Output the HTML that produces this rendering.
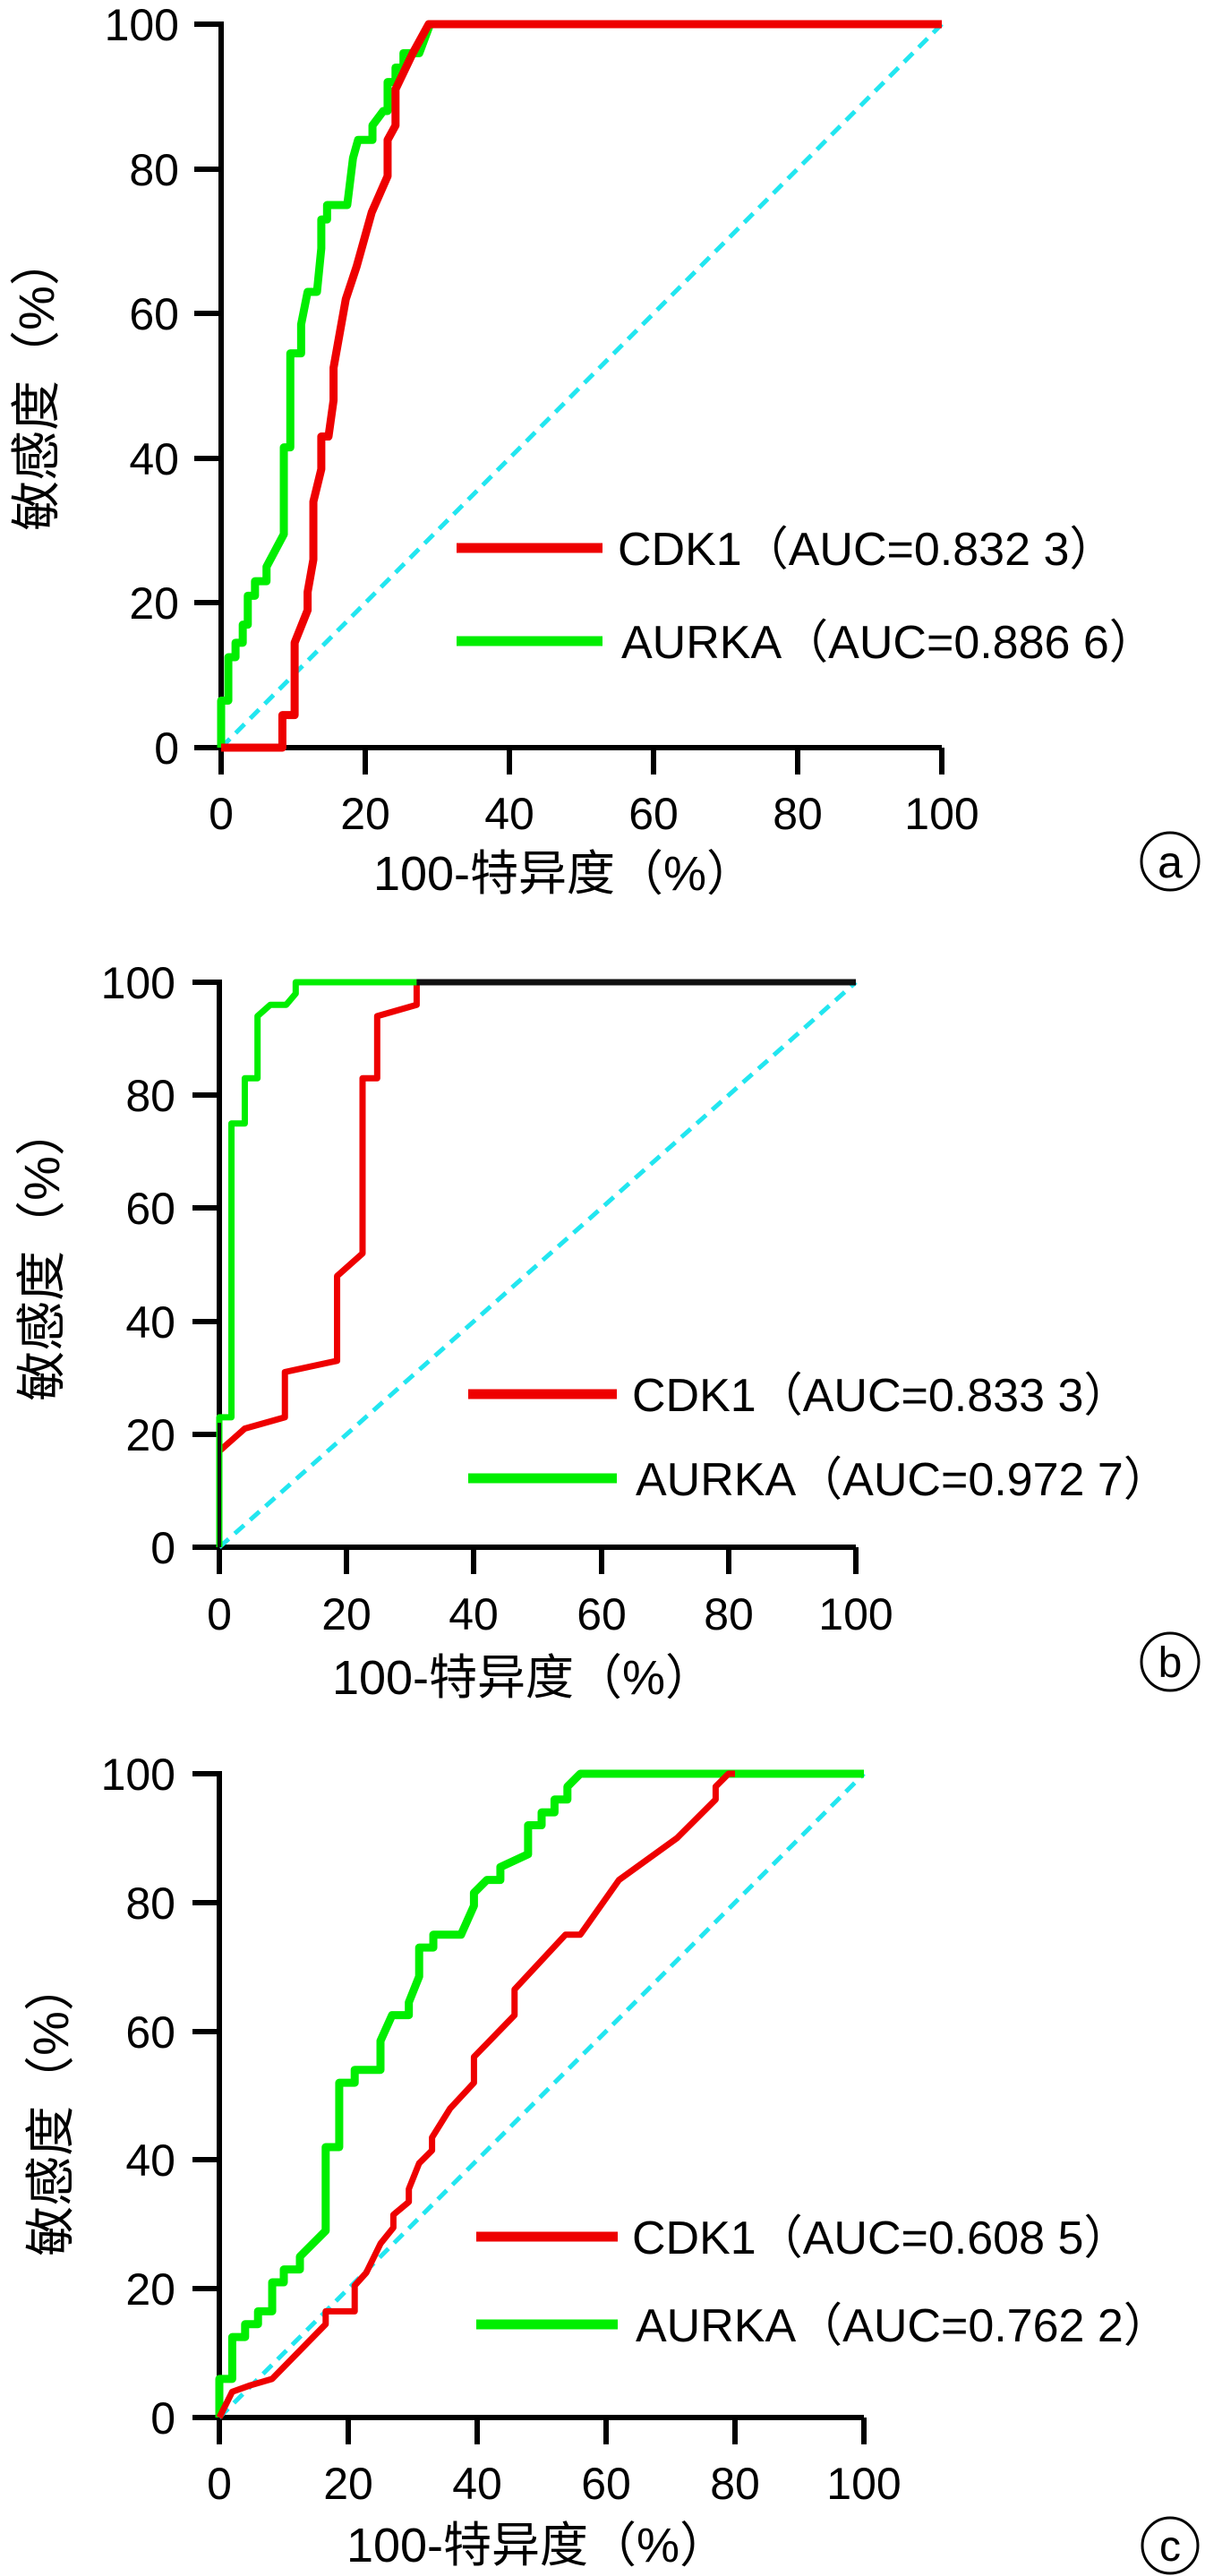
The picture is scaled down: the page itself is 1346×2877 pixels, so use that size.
<!DOCTYPE html>
<html><head><meta charset="utf-8"><style>
html,body{margin:0;padding:0;background:#fff;}
svg{display:block;}
text{font-family:"Liberation Sans","Noto Sans CJK SC",sans-serif;fill:#000;}
</style></head><body>
<svg width="1346" height="2877" viewBox="0 0 1346 2877" xmlns="http://www.w3.org/2000/svg">
<rect width="1346" height="2877" fill="#fff"/>

<!-- ============ PANEL A ============ -->
<g>
<line x1="217" y1="835" x2="1052" y2="835" stroke="#000" stroke-width="6"/>
<line x1="247" y1="24" x2="247" y2="838" stroke="#000" stroke-width="6"/>
<g stroke="#000" stroke-width="6">
<line x1="217" y1="27" x2="247" y2="27"/><line x1="217" y1="189" x2="247" y2="189"/><line x1="217" y1="350" x2="247" y2="350"/><line x1="217" y1="512" x2="247" y2="512"/><line x1="217" y1="673" x2="247" y2="673"/>
<line x1="247" y1="835" x2="247" y2="865"/><line x1="408" y1="835" x2="408" y2="865"/><line x1="569" y1="835" x2="569" y2="865"/><line x1="730" y1="835" x2="730" y2="865"/><line x1="891" y1="835" x2="891" y2="865"/><line x1="1052" y1="835" x2="1052" y2="865"/>
</g>
<g font-size="50" text-anchor="end">
<text x="200" y="45">100</text><text x="200" y="207">80</text><text x="200" y="368">60</text><text x="200" y="530">40</text><text x="200" y="691">20</text><text x="200" y="853">0</text>
</g>
<g font-size="50" text-anchor="middle">
<text x="247" y="926">0</text><text x="408" y="926">20</text><text x="569" y="926">40</text><text x="730" y="926">60</text><text x="891" y="926">80</text><text x="1052" y="926">100</text>
</g>
<text x="630" y="994" font-size="54" text-anchor="middle">100-特异度（%）</text>
<text transform="translate(60,428) rotate(-90)" font-size="56" text-anchor="middle">敏感度（%）</text>
<line x1="247" y1="835" x2="1052" y2="27" stroke="#22e6f0" stroke-width="5" stroke-dasharray="14,9"/>
<g transform="translate(247,835) scale(8.05,-8.08)" fill="none" stroke-linejoin="round">
<polyline vector-effect="non-scaling-stroke" stroke="#00ee00" stroke-width="9" points="0,0 0,6.5 1,6.5 1,12.5 2,12.5 2,14.5 3,14.5 3,17 3.7,17 3.7,21 4.7,21 4.7,23 6.3,23 6.3,25 8.7,29.5 8.7,41.5 9.6,41.5 9.6,54.5 11.1,54.5 11.1,58.5 12,63 13.3,63 13.9,69 13.9,73 14.7,73 14.7,75 17.5,75 18.3,81.5 19,84 21,84 21,86 22.5,88 23.1,88 23.1,92 24.2,92 24.2,94 25.3,94 25.3,96 27.5,96 29,100 100,100"/>
<polyline vector-effect="non-scaling-stroke" stroke="#ee0000" stroke-width="9" points="0,0 8.5,0 8.5,4.5 10.2,4.5 10.2,14.5 12,19 12,21.5 12.8,26 12.8,34 13.9,38.5 13.9,43 14.9,43 15.6,48 15.6,52.5 17.3,62 18.8,66.5 20.9,74 23.1,79 23.1,84 24.2,86 24.2,91 26.6,96 28.8,100 100,100"/>
</g>
<line x1="510" y1="612" x2="673" y2="612" stroke="#ee0000" stroke-width="11"/>
<line x1="510" y1="716" x2="673" y2="716" stroke="#00ee00" stroke-width="11"/>
<text x="690" y="631" font-size="52">CDK1（AUC=0.832 3）</text>
<text x="694" y="735" font-size="52">AURKA（AUC=0.886 6）</text>
<circle cx="1307" cy="962" r="32" fill="none" stroke="#000" stroke-width="3"/>
<text x="1307" y="980" font-size="50" text-anchor="middle">a</text>
</g>

<!-- ============ PANEL B ============ -->
<g>
<line x1="215" y1="1728" x2="956" y2="1728" stroke="#000" stroke-width="6"/>
<line x1="245" y1="1094" x2="245" y2="1731" stroke="#000" stroke-width="6"/>
<g stroke="#000" stroke-width="6">
<line x1="215" y1="1097" x2="245" y2="1097"/><line x1="215" y1="1223" x2="245" y2="1223"/><line x1="215" y1="1349" x2="245" y2="1349"/><line x1="215" y1="1476" x2="245" y2="1476"/><line x1="215" y1="1602" x2="245" y2="1602"/>
<line x1="245" y1="1728" x2="245" y2="1758"/><line x1="387" y1="1728" x2="387" y2="1758"/><line x1="529" y1="1728" x2="529" y2="1758"/><line x1="672" y1="1728" x2="672" y2="1758"/><line x1="814" y1="1728" x2="814" y2="1758"/><line x1="956" y1="1728" x2="956" y2="1758"/>
</g>
<g font-size="50" text-anchor="end">
<text x="196" y="1115">100</text><text x="196" y="1241">80</text><text x="196" y="1367">60</text><text x="196" y="1494">40</text><text x="196" y="1620">20</text><text x="196" y="1746">0</text>
</g>
<g font-size="50" text-anchor="middle">
<text x="245" y="1820">0</text><text x="387" y="1820">20</text><text x="529" y="1820">40</text><text x="672" y="1820">60</text><text x="814" y="1820">80</text><text x="956" y="1820">100</text>
</g>
<text x="584" y="1892" font-size="54" text-anchor="middle">100-特异度（%）</text>
<text transform="translate(66,1400) rotate(-90)" font-size="56" text-anchor="middle">敏感度（%）</text>
<line x1="245" y1="1728" x2="956" y2="1097" stroke="#22e6f0" stroke-width="5" stroke-dasharray="14,9"/>
<g transform="translate(245,1728) scale(7.11,-6.31)" fill="none" stroke-linejoin="round">
<polyline vector-effect="non-scaling-stroke" stroke="#ee0000" stroke-width="7" points="0,0 0,17 4,21 10.3,23 10.3,31 18.5,33 18.5,48 22.5,52 22.5,83 24.8,83 24.8,94 31,96 31,100 100,100"/>
<polyline vector-effect="non-scaling-stroke" stroke="#00ee00" stroke-width="7" points="0,0 0,23 1.9,23 1.9,75 4,75 4,83 6,83 6,94 8,96 10.5,96 12,98 12,100 31,100"/>
<polyline vector-effect="non-scaling-stroke" stroke="#111" stroke-width="7" points="31,100 100,100"/>
<polyline vector-effect="non-scaling-stroke" stroke="#111" stroke-width="4" points="0,0 0,22"/>
</g>
<line x1="523" y1="1557" x2="689" y2="1557" stroke="#ee0000" stroke-width="11"/>
<line x1="523" y1="1651" x2="689" y2="1651" stroke="#00ee00" stroke-width="11"/>
<text x="706" y="1576" font-size="52">CDK1（AUC=0.833 3）</text>
<text x="710" y="1670" font-size="52">AURKA（AUC=0.972 7）</text>
<circle cx="1307" cy="1856" r="32" fill="none" stroke="#000" stroke-width="3"/>
<text x="1307" y="1873" font-size="48" text-anchor="middle">b</text>
</g>

<!-- ============ PANEL C ============ -->
<g>
<line x1="215" y1="2700" x2="965" y2="2700" stroke="#000" stroke-width="6"/>
<line x1="245" y1="1978" x2="245" y2="2703" stroke="#000" stroke-width="6"/>
<g stroke="#000" stroke-width="6">
<line x1="215" y1="1981" x2="245" y2="1981"/><line x1="215" y1="2125" x2="245" y2="2125"/><line x1="215" y1="2269" x2="245" y2="2269"/><line x1="215" y1="2412" x2="245" y2="2412"/><line x1="215" y1="2556" x2="245" y2="2556"/>
<line x1="245" y1="2700" x2="245" y2="2730"/><line x1="389" y1="2700" x2="389" y2="2730"/><line x1="533" y1="2700" x2="533" y2="2730"/><line x1="677" y1="2700" x2="677" y2="2730"/><line x1="821" y1="2700" x2="821" y2="2730"/><line x1="965" y1="2700" x2="965" y2="2730"/>
</g>
<g font-size="50" text-anchor="end">
<text x="196" y="1999">100</text><text x="196" y="2143">80</text><text x="196" y="2287">60</text><text x="196" y="2430">40</text><text x="196" y="2574">20</text><text x="196" y="2718">0</text>
</g>
<g font-size="50" text-anchor="middle">
<text x="245" y="2791">0</text><text x="389" y="2791">20</text><text x="533" y="2791">40</text><text x="677" y="2791">60</text><text x="821" y="2791">80</text><text x="965" y="2791">100</text>
</g>
<text x="600" y="2861" font-size="54" text-anchor="middle">100-特异度（%）</text>
<text transform="translate(76,2355) rotate(-90)" font-size="56" text-anchor="middle">敏感度（%）</text>
<line x1="245" y1="2700" x2="965" y2="1981" stroke="#22e6f0" stroke-width="5" stroke-dasharray="14,9"/>
<g transform="translate(245,2700) scale(7.2,-7.19)" fill="none" stroke-linejoin="round">
<polyline vector-effect="non-scaling-stroke" stroke="#00ee00" stroke-width="9" points="0,0 0,6 2,6 2,12.5 4,12.5 4,14.5 6,14.5 6,16.5 8.2,16.5 8.2,21 10,21 10,23 12.5,23 12.5,25 16.5,29 16.5,42 18.6,42 18.6,52 21,52 21,54 25,54 25,58.5 26.8,62.5 29.4,62.5 29.4,64.5 31,68.5 31,73 33.2,73 33.2,75 37.5,75 39.5,79.5 39.5,81.5 41.5,83.5 43.6,83.5 43.6,85.5 47.9,87.5 47.9,92 50,92 50,94 52,94 52,96 54,96 54,98 56,100 100,100"/>
<polyline vector-effect="non-scaling-stroke" stroke="#ee0000" stroke-width="7" points="0,0 2,4 4.8,5 8.2,6 16.5,14.5 16.5,16.5 21,16.5 21,20.5 22.8,22.5 25,27 27,29.5 27,31.5 29.4,33.5 29.4,35.5 31,39.5 33,41.5 33,43.5 35.8,48 39.5,52 39.5,56 45.8,62.5 45.8,66.5 53.7,75 56,75 62,83.5 71,90 77,96 77,98 79,100 80,100"/>
</g>
<line x1="532" y1="2498" x2="690" y2="2498" stroke="#ee0000" stroke-width="11"/>
<line x1="532" y1="2596" x2="690" y2="2596" stroke="#00ee00" stroke-width="11"/>
<text x="706" y="2517" font-size="52">CDK1（AUC=0.608 5）</text>
<text x="710" y="2615" font-size="52">AURKA（AUC=0.762 2）</text>
<circle cx="1307" cy="2843" r="31" fill="none" stroke="#000" stroke-width="3"/>
<text x="1307" y="2860" font-size="48" text-anchor="middle">c</text>
</g>
</svg>
</body></html>
